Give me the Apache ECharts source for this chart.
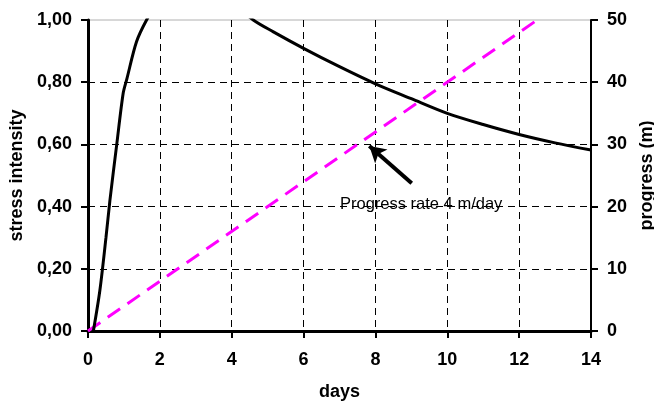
<!DOCTYPE html>
<html><head><meta charset="utf-8">
<script src="https://cdn.jsdelivr.net/npm/echarts@6/dist/echarts.min.js"></script>
<style>html,body{margin:0;padding:0;background:#fff}#c{width:654px;height:401px}</style>
</head><body><div id="c"></div>
<script>
const xTicks = [0, 2, 4, 6, 8, 10, 12, 14];
const stressData = [
  [0.15,0],[0.33,0.13],[0.5,0.3],[0.61,0.42],[0.8,0.6],[0.98,0.765],[1.08,0.81],
  [1.35,0.93],[1.63,1.0],[2,1.07],[2.5,1.12],[3,1.13],[3.5,1.11],[4,1.06],
  [4.6,1.0],[5.16,0.962],[6,0.909],[7,0.85],[8,0.795],[9,0.747],[10,0.70],
  [11,0.664],[12,0.632],[13,0.605],[14,0.582]
];
const progressData = [[0,0],[12.5,50]];
const arrowFrom = [9.01, 0.475];
const arrowTo = [7.83, 0.595];
const annotation = 'Progress rate 4 m/day';

const F = '"Liberation Sans", Arial, sans-serif';
const chart = echarts.init(document.getElementById('c'));
chart.setOption({
  animation:false,
  grid:{left:88, right:63, top:20, bottom:70, show:true, borderColor:'#b0b0b0', borderWidth:1,
    outerBoundsMode:'none', containLabel:false},
  xAxis:{
    type:'value', min:0, max:14, interval:2,
    name:'days', nameLocation:'middle', nameGap:52,
    nameTextStyle:{fontFamily:F, fontWeight:'bold', fontSize:18, color:'#000'},
    axisLine:{show:true, onZero:false, lineStyle:{color:'#000', width:3}},
    axisTick:{show:true, length:7, lineStyle:{color:'#000', width:2}},
    axisLabel:{fontFamily:F, fontWeight:'bold', fontSize:18, color:'#000', margin:20},
    splitLine:{show:true, showMinLine:false, showMaxLine:false, lineStyle:{color:'#000', type:[7,5], width:1}}
  },
  yAxis:[{
    type:'value', min:0, max:1, interval:0.2, position:'left',
    name:'stress intensity', nameLocation:'middle', nameGap:62,
    nameTextStyle:{fontFamily:F, fontWeight:'bold', fontSize:18, color:'#000'},
    axisLine:{show:true, onZero:false, lineStyle:{color:'#000', width:3}},
    axisTick:{show:true, length:7, lineStyle:{color:'#000', width:2}},
    axisLabel:{fontFamily:F, fontWeight:'bold', fontSize:18, color:'#000', margin:16,
      formatter:v=>v.toFixed(2).replace('.',',')},
    splitLine:{show:true, showMinLine:false, showMaxLine:false, lineStyle:{color:'#000', type:[7,5], width:1}}
  },{
    type:'value', min:0, max:50, interval:10, position:'right',
    name:'progress (m)', nameLocation:'middle', nameGap:46, nameRotate:90,
    nameTextStyle:{fontFamily:F, fontWeight:'bold', fontSize:18, color:'#000'},
    axisLine:{show:true, onZero:false, lineStyle:{color:'#000', width:2}},
    axisTick:{show:true, length:7, lineStyle:{color:'#000', width:2}},
    axisLabel:{fontFamily:F, fontWeight:'bold', fontSize:18, color:'#000', margin:16},
    splitLine:{show:false}
  }],
  series:[{
    type:'line', yAxisIndex:0, data:stressData, smooth:0.3, showSymbol:false, clip:true,
    lineStyle:{color:'#000', width:3}, z:5,
    markLine:{
      silent:true, symbol:['none','arrow'], symbolSize:[14,16],
      lineStyle:{color:'#000', width:4, type:'solid'}, label:{show:false},
      data:[[{coord:arrowFrom},{coord:arrowTo}]]
    }
  },{
    type:'line', yAxisIndex:1, data:progressData, showSymbol:false, clip:true,
    lineStyle:{color:'#ff00ff', width:3, type:[15,9]}, z:4
  }],
  graphic:[{
    type:'text', left:340, top:196,
    style:{text:annotation, fontFamily:F, fontSize:16.5, fill:'#000'}
  }]
});
</script></body></html>
